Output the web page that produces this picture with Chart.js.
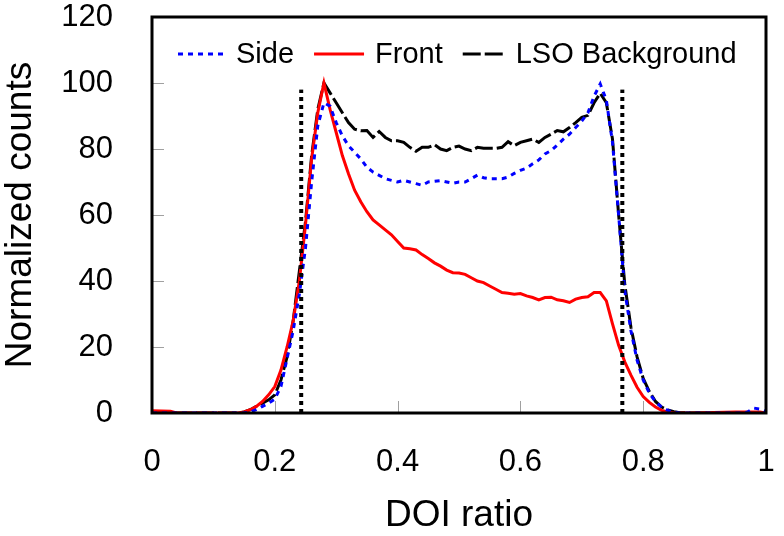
<!DOCTYPE html>
<html><head><meta charset="utf-8">
<script src="https://cdn.jsdelivr.net/npm/chart.js@4/dist/chart.umd.min.js"></script>
<style>html,body{margin:0;padding:0;background:#fff}#wrap{width:784px;height:536px}</style>
</head><body><div id="wrap"><canvas id="c" width="784" height="536"></canvas></div>
<script>
// ---- data ----
const doiRatio = [0,0.03,0.04,0.10,0.14,0.15,0.16,0.17,0.18,0.19,0.20,0.21,0.22,0.23,0.24,0.25,0.26,0.27,0.28,0.29,
  0.30,0.31,0.32,0.33,0.34,0.35,0.36,0.37,0.38,0.39,0.40,0.41,0.42,0.43,0.44,0.45,0.46,0.47,0.48,0.49,
  0.50,0.51,0.52,0.53,0.54,0.55,0.56,0.57,0.58,0.59,0.60,0.61,0.62,0.63,0.64,0.65,0.66,0.67,0.68,0.69,
  0.70,0.71,0.72,0.73,0.74,0.75,0.76,0.77,0.78,0.79,0.80,0.81,0.82,0.83,0.84,0.85,0.86,0.88,0.95,0.96,0.97,0.98,0.99,1.0];
const side = [0,0,0,0,0,0,0.3,1,2,3,4.2,8,16.5,25,36,50,70,87,94,93,
  88,84,81,79,77,74.5,73,72,71,70.5,70,70.5,70,69.5,69,70,70.2,70.4,70,69.6,
  70,70,71,72.1,71.3,71,71,71,71.5,72.6,73.5,74.2,75.5,76.7,78.5,79.5,81.2,83,84.5,86.5,
  88.5,91,96,99.7,94.8,82,60,37,25,16,10,6,3.4,1.8,0.8,0.3,0,0,0,0,0.3,1.5,1.2,0.5];
const front = [0.7,0.5,0,0,0,0.3,1,2,3.5,5.5,8,13,20,28,40,57,77,91,100,92,
  85,78,72.5,67.5,64,61,58.5,57,55.5,54,52,50,49.8,49.4,48,46.8,45.5,44.5,43.3,42.5,
  42.4,42,41,40,39.5,38.5,37.5,36.5,36.3,36,36.2,35.5,35,34.3,35,35.1,34.3,34,33.5,34.5,
  35,35.2,36.5,36.5,34,27,20.5,15.5,11.5,7.8,5,3.2,1.8,0.8,0.3,0,0,0,0.3,0.3,0.3,0.3,0.3,0];
const lsoBackground = [0,0,0,0,0,0.3,1,2,3,4,5.5,10,17,28,43,58,78,92,100,97,
  94,91,88,86,85.5,85.6,83.5,85.3,83.5,82.5,82.5,82,80.5,79.3,80.5,80.5,81.3,80,79.5,80.5,
  80.9,80,79.5,80.5,80.2,80.2,80.2,80.5,82.2,81,82,82.5,83,82,83.5,84.5,85.6,85.2,86.5,88,
  89.6,90.2,94,96.9,94,83,60,39,26,17,10.5,6.5,3.5,1.8,0.9,0.4,0.1,0,0,0,0,0,0,0];
const cutLow = 0.243, cutHigh = 0.766, cutTop = 98;
const xTicks = [0,0.2,0.4,0.6,0.8,1];
const yTicks = [0,20,40,60,80,100,120];
const seriesNames = ['Side','Front','LSO Background'];
const xTitle = 'DOI ratio', yTitle = 'Normalized counts';

const FONT = "'Liberation Sans', Arial, Helvetica, sans-serif";
const pts = ys => doiRatio.map((x,i)=>({x, y: ys[i]}));

// plot frame, inside tick marks and an in-plot single-row legend
const frame = {
  id: 'frame',
  afterDatasetsDraw(chart){
    const {ctx, chartArea:a, scales:{x, y}} = chart;
    ctx.save();
    ctx.strokeStyle = '#a0a0a0'; ctx.lineWidth = 1;
    ctx.beginPath();
    yTicks.slice(1,-1).forEach(v=>{ const p = Math.round(y.getPixelForValue(v))+0.5; ctx.moveTo(a.left, p); ctx.lineTo(a.left+12, p); });
    xTicks.slice(1,-1).forEach(v=>{ const p = Math.round(x.getPixelForValue(v))+0.5; ctx.moveTo(p, a.bottom); ctx.lineTo(p, a.bottom-12); });
    ctx.stroke();
    ctx.strokeStyle = '#000'; ctx.lineWidth = 3;
    ctx.strokeRect(a.left, a.top, a.right-a.left, a.bottom-a.top);

    // legend
    ctx.font = '29px ' + FONT;
    ctx.textBaseline = 'middle'; ctx.textAlign = 'left';
    const cy = a.top + 37;
    let cx = a.left + 26;
    const sampleW = [47, 50, 42];
    seriesNames.forEach((name, i) => {
      const ds = chart.data.datasets[i];
      ctx.beginPath();
      ctx.setLineDash(ds.borderDash || []);
      ctx.lineWidth = ds.borderWidth; ctx.strokeStyle = ds.borderColor; ctx.lineCap = 'butt';
      ctx.moveTo(cx, cy); ctx.lineTo(cx + sampleW[i], cy); ctx.stroke();
      ctx.setLineDash([]);
      cx += sampleW[i] + 11;
      ctx.fillStyle = '#000';
      ctx.fillText(name, cx, cy + 1);
      cx += ctx.measureText(name).width + 20;
    });
    ctx.restore();
  }
};

new Chart(document.getElementById('c'), {
  type: 'line',
  data: { datasets: [
    { label: seriesNames[0], data: pts(side), borderColor: '#0000ff', borderWidth: 3, borderDash: [5,5], order: 1 },
    { label: seriesNames[1], data: pts(front), borderColor: '#ff0000', borderWidth: 3, order: 2 },
    { label: seriesNames[2], data: pts(lsoBackground), borderColor: '#000000', borderWidth: 3, borderDash: [18,4], order: 3 },
    { label: 'cutLow', data: [{x:cutLow,y:0},{x:cutLow,y:cutTop}], borderColor: '#000', borderWidth: 4, borderDash: [4,4], order: 0 },
    { label: 'cutHigh', data: [{x:cutHigh,y:0},{x:cutHigh,y:cutTop}], borderColor: '#000', borderWidth: 4, borderDash: [4,4], order: 0 }
  ]},
  options: {
    responsive: false, animation: false, devicePixelRatio: 1,
    elements: { point: { radius: 0 }, line: { tension: 0, fill: false, borderCapStyle: 'butt' } },
    layout: { padding: { top: 17, right: 18, left: 0, bottom: 0 } },
    plugins: { tooltip: { enabled: false }, legend: { display: false } },
    scales: {
      x: {
        type: 'linear', min: 0, max: 1,
        afterBuildTicks: s => { s.ticks = xTicks.map(v=>({value:v})); },
        afterFit: s => { s.height = 123; s.paddingLeft = 0; s.paddingRight = 0; },
        grid: { display: false, drawTicks: false }, border: { display: false },
        ticks: { font: { family: FONT, size: 31, lineHeight: 1 }, color: '#000', padding: 34, maxRotation: 0,
          callback: v => String(v) },
        title: { display: true, text: xTitle, color: '#000', font: { family: FONT, size: 37, lineHeight: 1 }, padding: { top: 0, bottom: 1.5 } }
      },
      y: {
        min: 0, max: 120,
        afterBuildTicks: s => { s.ticks = yTicks.map(v=>({value:v})); },
        afterFit: s => { s.width = 152; s.paddingTop = 0; s.paddingBottom = 0; },
        grid: { display: false, drawTicks: false }, border: { display: false },
        ticks: { font: { family: FONT, size: 31 }, color: '#000', padding: 39 },
        title: { display: true, text: yTitle, color: '#000', font: { family: FONT, size: 37, lineHeight: 1 }, padding: { top: 2, bottom: 0 } }
      }
    }
  },
  plugins: [frame]
});
</script></body></html>
